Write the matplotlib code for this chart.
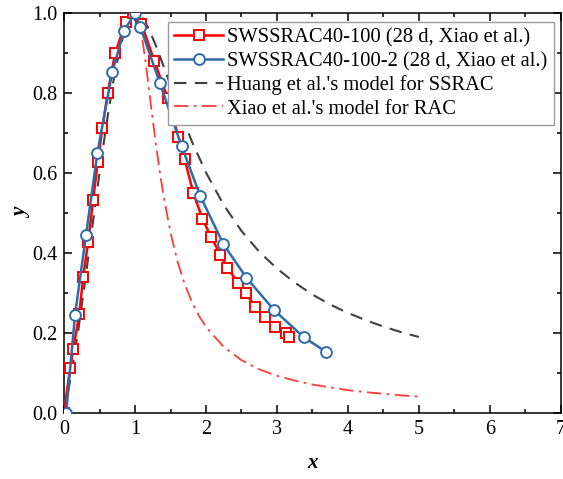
import matplotlib
matplotlib.use("Agg")
import matplotlib.pyplot as plt
from matplotlib.ticker import MultipleLocator, FormatStrFormatter

plt.rcParams['font.family'] = ['Liberation Serif', 'DejaVu Serif']
plt.rcParams['mathtext.fontset'] = 'stix'

# Series 1: SWSSRAC40-100 (28 d, Xiao et al.)
red_x = [0.0, 0.085, 0.13, 0.215, 0.27, 0.34, 0.41, 0.475, 0.54, 0.615, 0.72, 0.87, 0.97,
         1.09, 1.27, 1.46, 1.61, 1.70, 1.82, 1.95, 2.07, 2.20, 2.30, 2.455, 2.56, 2.695,
         2.83, 2.97, 3.13, 3.17]
red_y = [0.0, 0.112, 0.159, 0.247, 0.341, 0.428, 0.532, 0.627, 0.712, 0.80, 0.899, 0.978, 1.0,
         0.973, 0.881, 0.787, 0.691, 0.634, 0.551, 0.485, 0.441, 0.396, 0.362, 0.326, 0.299,
         0.266, 0.241, 0.216, 0.199, 0.191]

# Series 2: SWSSRAC40-100-2 (28 d, Xiao et al.)
blue_x = [0.03, 0.155, 0.31, 0.47, 0.68, 0.845, 1.0, 1.075, 1.35, 1.655, 1.92, 2.245, 2.57,
          2.96, 3.38, 3.69]
blue_y = [0.0, 0.245, 0.445, 0.65, 0.853, 0.955, 1.0, 0.965, 0.825, 0.668, 0.542, 0.422, 0.338,
          0.257, 0.189, 0.153]

# Huang et al.'s model for SSRAC
huang_x = [0.0, 0.1, 0.2, 0.3, 0.4, 0.5, 0.6, 0.7, 0.8, 0.9, 1.0, 1.1, 1.2, 1.3, 1.4, 1.5, 1.6,
           1.8, 2.0, 2.25, 2.5, 2.75, 3.0, 3.25, 3.5, 3.75, 4.0, 4.25, 4.5, 4.75, 5.0]
huang_y = [0.0, 0.093, 0.206, 0.334, 0.467, 0.600, 0.725, 0.834, 0.922, 0.979, 1.0, 0.989,
           0.958, 0.916, 0.868, 0.819, 0.770, 0.679, 0.601, 0.520, 0.455, 0.403, 0.361,
           0.326, 0.296, 0.271, 0.250, 0.232, 0.216, 0.202, 0.190]

# Xiao et al.'s model for RAC
xiao_x = [1.0, 1.05, 1.1, 1.15, 1.2, 1.25, 1.3, 1.35, 1.4, 1.5, 1.6, 1.7, 1.8, 1.9, 2.0, 2.25,
          2.5, 2.75, 3.0, 3.25, 3.5, 3.75, 4.0, 4.25, 4.5, 4.75, 5.0]
xiao_y = [1.0, 0.983, 0.938, 0.876, 0.804, 0.733, 0.664, 0.602, 0.545, 0.451, 0.378, 0.322,
          0.278, 0.243, 0.215, 0.165, 0.132, 0.109, 0.093, 0.081, 0.071, 0.064, 0.057,
          0.052, 0.048, 0.044, 0.041]

fig = plt.figure(figsize=(5.63, 4.79), dpi=100)
ax = fig.add_axes([0.1137, 0.1378, 0.8827, 0.8351])

ax.plot(red_x, red_y, color='#FF0000', lw=1.8, marker='s', ms=6.8, mfc='white',
        mec='#FF0000', mew=1.4, label='SWSSRAC40-100 (28 d, Xiao et al.)', zorder=4)
ax.plot(blue_x, blue_y, color='#2E6BA8', lw=1.8, marker='o', ms=7.8, mfc='white',
        mec='#2E6BA8', mew=1.4, label='SWSSRAC40-100-2 (28 d, Xiao et al.)', zorder=5)
ax.plot(huang_x, huang_y, color='#404040', lw=1.5, ls=(0, (6, 4)),
        label="Huang et al.'s model for SSRAC", zorder=3)
ax.plot(xiao_x, xiao_y, color='#FF3B3B', lw=1.3, ls=(0, (8, 3, 1.5, 3)),
        label="Xiao et al.'s model for RAC", zorder=3)

ax.set_xlim(0, 7)
ax.set_ylim(0, 1.0)
ax.xaxis.set_major_locator(MultipleLocator(1))
ax.xaxis.set_minor_locator(MultipleLocator(0.5))
ax.yaxis.set_major_locator(MultipleLocator(0.2))
ax.yaxis.set_minor_locator(MultipleLocator(0.1))
ax.yaxis.set_major_formatter(FormatStrFormatter('%.1f'))
ax.tick_params(which='both', direction='in', top=True, right=True, labelsize=14.5,
               width=1.1, colors='black')
ax.tick_params(which='major', length=6, pad=5)
ax.tick_params(which='minor', length=3)
for s in ax.spines.values():
    s.set_linewidth(1.1)

ax.set_xlabel('x', fontsize=15, fontweight='bold', fontstyle='italic', labelpad=10)
ax.set_ylabel('y', fontsize=15, fontweight='bold', fontstyle='italic', labelpad=0)

leg = ax.legend(loc='upper left', bbox_to_anchor=(0.209, 0.9775), borderaxespad=0,
                fontsize=14.8, frameon=True, fancybox=False, framealpha=1,
                edgecolor='#999999', handlelength=2.4, handletextpad=0.2,
                labelspacing=0.2, borderpad=0.3)
leg.get_frame().set_linewidth(1.0)

fig.savefig('out.png', dpi=100)
